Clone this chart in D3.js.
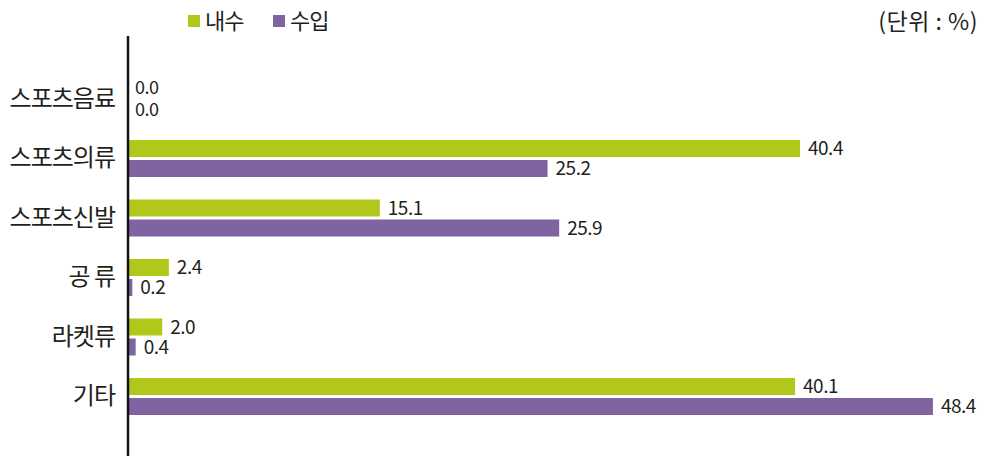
<!DOCTYPE html>
<html>
<head>
<meta charset="utf-8">
<script src="https://cdn.jsdelivr.net/npm/d3@7"></script>
<style>
  body { margin: 0; background: #fff; }
  svg text { font-family: "Noto Sans CJK KR", "Noto Sans", sans-serif; fill: #231f20; }
</style>
</head>
<body>
<div id="chart"></div>
<script>
// categories (top to bottom)
const categories = ["스포츠음료", "스포츠의류", "스포츠신발", "공 류", "라켓류", "기타"];
const seriesNames = ["내수", "수입"];
// values in %
const domestic = [0.0, 40.4, 15.1, 2.4, 2.0, 40.1];
const imported = [0.0, 25.2, 25.9, 0.2, 0.4, 48.4];
const colors = ["#b1c81a", "#8064a2"];
const unitLabel = "(단위 : %)";

const width = 985, height = 456;

let svg = d3.select("#chart").append("svg")
    .attr("width", width)
    .attr("height", height)
    .attr("viewBox", "0 0 " + width + " " + height);

let x = d3.scaleLinear()
    .domain([0, 50])
    .range([129, 959.5]);

let y = d3.scaleBand()
    .domain(categories)
    .range([69.25, 426.25]);

// two bars per category, 17px tall with a small gap
let yInner = d3.scaleBand()
    .domain(seriesNames)
    .range([y.bandwidth() / 2 - 18.5, y.bandwidth() / 2 + 18.5])
    .paddingInner(0.15);

let rows = categories.map((c, i) => ({
    cat: c,
    vals: [
        {name: seriesNames[0], v: domestic[i], color: colors[0]},
        {name: seriesNames[1], v: imported[i], color: colors[1]}
    ]
}));

let groups = svg.append("g").selectAll("g")
    .data(rows)
    .join("g")
    .attr("transform", d => "translate(0," + y(d.cat) + ")");

groups.selectAll("rect")
    .data(d => d.vals)
    .join("rect")
    .attr("x", x(0))
    .attr("y", d => yInner(d.name))
    .attr("width", d => x(d.v) - x(0))
    .attr("height", yInner.bandwidth())
    .attr("fill", d => d.color);

groups.selectAll("text.val")
    .data(d => d.vals)
    .join("text")
    .attr("class", "val")
    .attr("x", d => x(d.v) + (d.v === 0 ? 6 : 8))
    .attr("y", (d, i) => {
        let yy = yInner(d.name) + yInner.bandwidth() / 2;
        // zero labels sit on top of each other, nudge them apart a bit
        if (d.v === 0) yy += (i === 0 ? -1 : 1);
        return yy;
    })
    .attr("dy", "0.35em")
    .attr("font-size", d => d.v === 0 ? 18 : 19)
    .attr("letter-spacing", -0.5)
    .text(d => d.v.toFixed(1));

// category axis
let yAxis = d3.axisLeft(y).tickSize(0).tickPadding(13);
let axisG = svg.append("g")
    .attr("transform", "translate(128,0)")
    .call(yAxis);
axisG.select(".domain").remove();
axisG.selectAll("text")
    .attr("font-size", 24)
    .attr("letter-spacing", -1)
    .style("font-family", "\"Noto Sans CJK KR\", sans-serif")
    .attr("fill", "#231f20");

svg.append("line")
    .attr("x1", 128).attr("x2", 128)
    .attr("y1", 36).attr("y2", height)
    .attr("stroke", "#111")
    .attr("stroke-width", 2.5);

// legend
let legend = svg.append("g").selectAll("g")
    .data(seriesNames)
    .join("g")
    .attr("transform", (d, i) => "translate(" + (188 + i * 85) + ",0)");
legend.append("rect")
    .attr("x", 0).attr("y", 15)
    .attr("width", 12).attr("height", 12)
    .attr("fill", (d, i) => colors[i]);
legend.append("text")
    .attr("x", 17).attr("y", 21)
    .attr("dy", "0.35em")
    .attr("font-size", 22)
    .attr("letter-spacing", -1)
    .text(d => d);

svg.append("text")
    .attr("x", 978).attr("y", 22)
    .attr("dy", "0.35em")
    .attr("text-anchor", "end")
    .attr("font-size", 23)
    .attr("letter-spacing", 0.5)
    .text(unitLabel);
</script>
</body>
</html>
